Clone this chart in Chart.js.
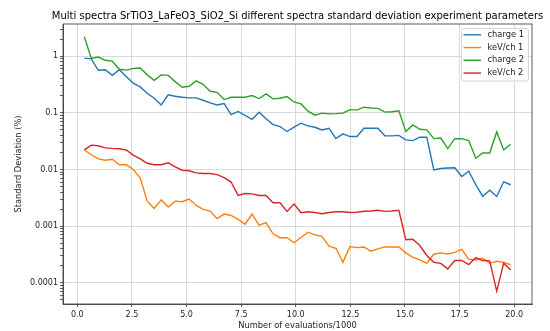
<!DOCTYPE html>
<html>
<head>
<meta charset="utf-8">
<title>Multi spectra standard deviation</title>
<script src="https://cdn.jsdelivr.net/npm/chart.js@4.4.0/dist/chart.umd.min.js"></script>
<style>
  html, body { margin: 0; padding: 0; background: #fff; }
  #wrap { width: 550px; height: 331px; }
</style>
</head>
<body>
<div id="wrap"><canvas id="chart" width="550" height="331"></canvas></div>
<script>
// evaluations (thousands) at which the spread was measured
const evaluations = [
  0.32, 0.64, 0.96, 1.28, 1.6, 1.92, 2.24, 2.56, 2.88, 3.2, 3.52, 3.84, 4.16, 4.48, 4.8, 5.12,
  5.44, 5.76, 6.08, 6.4, 6.72, 7.04, 7.36, 7.68, 8.0, 8.32, 8.64, 8.96, 9.28, 9.6, 9.92,
  10.24, 10.56, 10.88, 11.2, 11.52, 11.84, 12.16, 12.48, 12.8, 13.12, 13.44, 13.76, 14.08,
  14.4, 14.72, 15.04, 15.36, 15.68, 16.0, 16.32, 16.64, 16.96, 17.28, 17.6, 17.92, 18.24,
  18.56, 18.88, 19.2, 19.52, 19.84
];

const charge1 = [
  0.93, 0.9, 0.566, 0.58, 0.46, 0.58, 0.44, 0.334, 0.288, 0.222, 0.181, 0.138, 0.208, 0.197,
  0.189, 0.184, 0.184, 0.167, 0.15, 0.138, 0.146,
  0.0935, 0.106, 0.09, 0.077, 0.103, 0.0785, 0.0622, 0.0574, 0.0469, 0.0558, 0.0657, 0.059,
  0.0558, 0.05, 0.0536, 0.0352, 0.0426, 0.0382, 0.0382, 0.0536, 0.0536,
  0.0536, 0.0393, 0.0393, 0.04, 0.0334, 0.0324, 0.0372, 0.0372, 0.0098, 0.0104, 0.0106,
  0.0107, 0.0075, 0.0093, 0.0054, 0.00334, 0.00432, 0.00334, 0.00606, 0.00537
];

const kevch1 = [
  0.0221, 0.0182, 0.0154, 0.0146, 0.0152, 0.0121, 0.0121, 0.01, 0.00703, 0.00276, 0.00205,
  0.0029, 0.00217, 0.00276, 0.00269, 0.003, 0.00232, 0.00197, 0.00184, 0.00135, 0.00163,
  0.00154, 0.00131, 0.00108, 0.00163, 0.00104, 0.00115, 0.000732, 0.000623, 0.000623,
  0.000508, 0.00063, 0.00078, 0.0007, 0.00066, 0.00044, 0.000405, 0.000229, 0.000434,
  0.000417, 0.000428, 0.00036,
  0.000395, 0.000428, 0.000428, 0.000428, 0.000336, 0.000281, 0.000252, 0.00022, 0.000318,
  0.000336, 0.000322, 0.000344, 0.000389, 0.000259, 0.000252, 0.00027, 0.00022, 0.000239,
  0.000229, 0.000209
];

const charge2 = [
  2.22, 0.92, 0.97, 0.85, 0.82, 0.59, 0.57, 0.61, 0.62, 0.47, 0.377, 0.47, 0.46, 0.357,
  0.284, 0.296, 0.367, 0.32, 0.241, 0.231, 0.172,
  0.189, 0.189, 0.189, 0.202, 0.179, 0.216, 0.177, 0.181, 0.194, 0.156, 0.144, 0.107,
  0.091, 0.099, 0.096, 0.097, 0.099, 0.114, 0.112, 0.126, 0.122,
  0.12, 0.103, 0.105, 0.109, 0.0467, 0.0614, 0.0513, 0.05, 0.0351, 0.036, 0.0234, 0.035,
  0.035, 0.0324, 0.0158, 0.0196, 0.0196, 0.0461, 0.0222, 0.0279
];

const kevch2 = [
  0.0222, 0.0269, 0.0262, 0.0241, 0.0236, 0.0233, 0.0221, 0.0179, 0.0154, 0.0129, 0.0121,
  0.0121, 0.0131, 0.0111, 0.0097, 0.0095, 0.0087, 0.0085, 0.0085, 0.0081, 0.0072,
  0.006, 0.00348, 0.00377, 0.0037, 0.00348, 0.00348, 0.00258, 0.00258, 0.00182, 0.00245,
  0.00172, 0.00179, 0.00174, 0.00165, 0.00174, 0.00179, 0.00179, 0.00174, 0.00176,
  0.00183, 0.00185,
  0.0019, 0.00182, 0.00185, 0.0019, 0.000574, 0.000586, 0.000454, 0.000302, 0.000229,
  0.000219, 0.000175, 0.000247, 0.000247, 0.000209, 0.000278, 0.000246, 0.000243,
  0.0000709, 0.000221, 0.000168
];

const seriesNames = ['charge 1', 'keV/ch 1', 'charge 2', 'keV/ch 2'];
const seriesColors = ['#1f77b4', '#ff7f0e', '#2ca02c', '#d62728'];

const xTicks = [0, 2.5, 5, 7.5, 10, 12.5, 15, 17.5, 20];
const yTicks = [0.0001, 0.001, 0.01, 0.1, 1];
const yTickLabels = ['0.0001', '0.001', '0.01', '0.1', '1'];

const X_MIN = -0.656, X_MAX = 20.816;
const Y_MIN = 4.2e-5, Y_MAX = 3.72;

const FONT = "'DejaVu Sans', sans-serif";
const TITLE = 'Multi spectra SrTiO3_LaFeO3_SiO2_Si different spectra standard deviation experiment parameters';

// minor log ticks (2..9 x 10^n) inside the axis range
const yMinor = [];
for (let e = -5; e <= 0; e++) {
  for (let m = 2; m <= 9; m++) {
    const v = m * Math.pow(10, e);
    if (v >= Y_MIN && v <= Y_MAX) yMinor.push(v);
  }
}
const allYTicks = yTicks.concat(yMinor).sort((a, b) => a - b);

const isDecade = v => Math.abs(Math.log10(v) - Math.round(Math.log10(v))) < 1e-9;

const toPoints = vals => vals.map((v, i) => ({ x: evaluations[i], y: v }));

const plotTitle = {
  id: 'plotTitle',
  afterDraw(chart) {
    const { ctx, chartArea } = chart;
    ctx.save();
    ctx.font = '10px ' + FONT;
    ctx.fillStyle = '#000';
    ctx.textAlign = 'center';
    ctx.textBaseline = 'middle';
    ctx.fillText(TITLE, (chartArea.left + chartArea.right) / 2, 16);
    ctx.restore();
  }
};

// full box around the axes, on top of the lines
const axesFrame = {
  id: 'axesFrame',
  afterDatasetsDraw(chart) {
    const { ctx, chartArea: a } = chart;
    ctx.save();
    ctx.strokeStyle = '#333';
    ctx.lineWidth = 0.8;
    ctx.strokeRect(a.left, a.top, a.right - a.left, a.bottom - a.top);
    ctx.restore();
  }
};

// legend box in the upper right corner of the axes
const cornerLegend = {
  id: 'cornerLegend',
  afterDraw(chart) {
    const { ctx, chartArea: a } = chart;
    const w = 67, h = 52.5;
    const x0 = a.right - 3.5 - w, y0 = a.top + 4.5;
    ctx.save();
    ctx.beginPath();
    ctx.roundRect(x0, y0, w, h, 2);
    ctx.fillStyle = 'rgba(255,255,255,0.8)';
    ctx.fill();
    ctx.strokeStyle = '#cccccc';
    ctx.lineWidth = 0.8;
    ctx.stroke();
    ctx.font = '8.3px ' + FONT;
    ctx.textAlign = 'left';
    ctx.textBaseline = 'middle';
    chart.data.datasets.forEach((ds, i) => {
      const y = y0 + 6.3 + i * 12.75;
      ctx.beginPath();
      ctx.moveTo(x0 + 2, y);
      ctx.lineTo(x0 + 19.5, y);
      ctx.strokeStyle = ds.borderColor;
      ctx.lineWidth = 1.4;
      ctx.stroke();
      ctx.fillStyle = '#222';
      ctx.fillText(ds.label, x0 + 26, y);
    });
    ctx.restore();
  }
};

const seriesValues = [charge1, kevch1, charge2, kevch2];

new Chart(document.getElementById('chart'), {
  type: 'line',
  data: {
    datasets: seriesValues.map((vals, i) => ({
      label: seriesNames[i],
      data: toPoints(vals),
      borderColor: seriesColors[i],
      backgroundColor: seriesColors[i],
      borderWidth: 1.4,
      pointRadius: 0,
      tension: 0,
      fill: false,
      order: seriesValues.length - i
    }))
  },
  options: {
    responsive: false,
    devicePixelRatio: 1,
    animation: false,
    layout: { padding: { left: 0, right: 18, top: 24, bottom: 0 } },
    plugins: {
      legend: { display: false },
      tooltip: { enabled: false }
    },
    scales: {
      x: {
        type: 'linear',
        min: X_MIN,
        max: X_MAX,
        afterBuildTicks: s => { s.ticks = xTicks.map(v => ({ value: v })); },
        afterFit: s => { s.height = 27; },
        ticks: {
          callback: v => Number(v).toFixed(1),
          font: { family: FONT, size: 8 },
          color: '#222',
          padding: 3,
          maxRotation: 0,
          autoSkip: false
        },
        grid: { color: '#d0d0d0', lineWidth: 0.8, tickLength: 3, tickColor: '#333', tickWidth: 0.8 },
        border: { color: '#333', width: 0.8 },
        title: {
          display: true,
          text: 'Number of evaluations/1000',
          font: { family: FONT, size: 8.3 },
          color: '#222',
          padding: 0
        }
      },
      y: {
        type: 'logarithmic',
        min: Y_MIN,
        max: Y_MAX,
        afterBuildTicks: s => { s.ticks = allYTicks.map(v => ({ value: v })); },
        afterFit: s => { s.width = 63; },
        ticks: {
          callback: v => {
            const i = yTicks.findIndex(t => Math.abs(t - v) / t < 1e-9);
            return i >= 0 ? yTickLabels[i] : '';
          },
          font: { family: FONT, size: 8 },
          color: '#222',
          padding: 2,
          autoSkip: false
        },
        grid: {
          color: c => (c.tick && isDecade(c.tick.value)) ? '#d0d0d0' : 'rgba(0,0,0,0)',
          lineWidth: 0.8,
          tickLength: 3,
          tickColor: '#333',
          tickWidth: 0.8
        },
        border: { color: '#333', width: 0.8 },
        title: {
          display: true,
          text: 'Standard Deviation (%)',
          font: { family: FONT, size: 8.3 },
          color: '#222',
          padding: { top: 14, bottom: 0 }
        }
      }
    }
  },
  plugins: [axesFrame, plotTitle, cornerLegend]
});
</script>
</body>
</html>
